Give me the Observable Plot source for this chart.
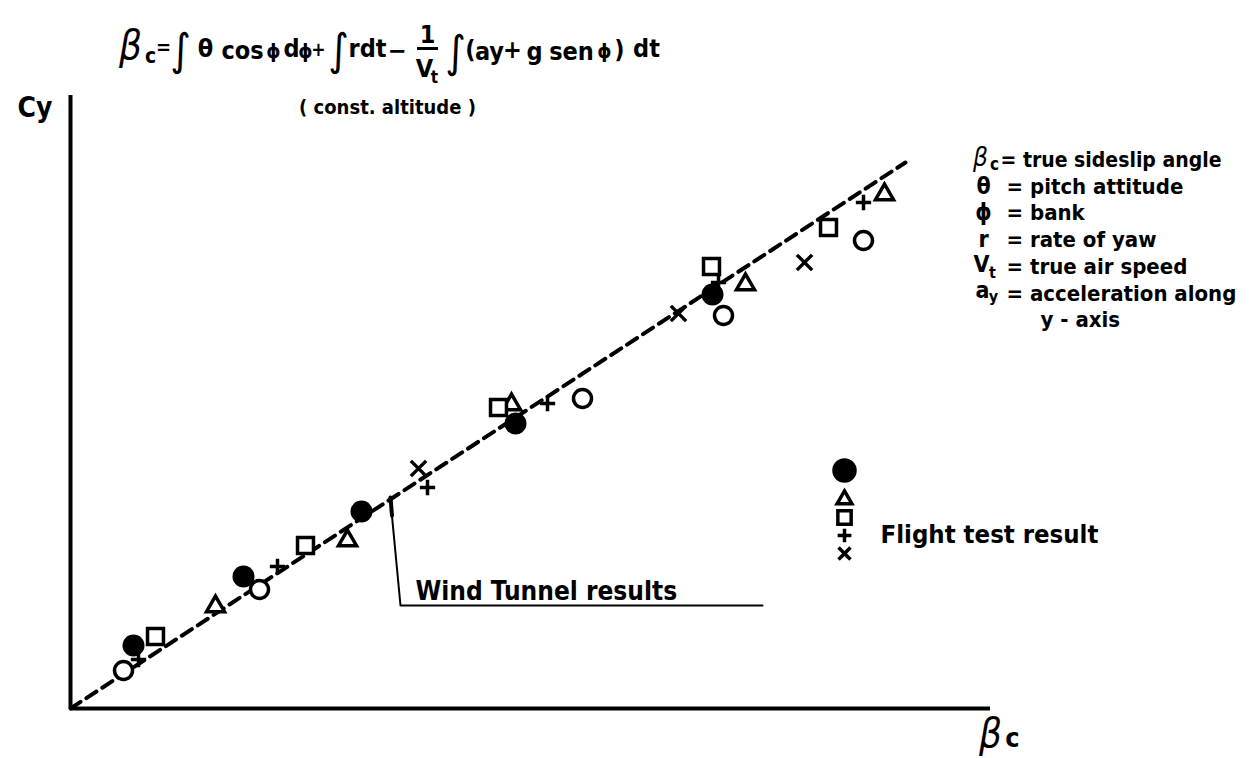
<!DOCTYPE html>
<html><head><meta charset="utf-8">
<script src="https://cdn.jsdelivr.net/npm/d3@7"></script>
<script src="https://cdn.jsdelivr.net/npm/@observablehq/plot@0.6"></script>
<style>body{margin:0;background:#fff;overflow:hidden}</style>
</head><body><div id="chart"></div>
<script>
// ---- data (arbitrary units: beta_c along x, Cy along y) ----
const filledCircleBeta = [6.3, 17.3, 29.1, 44.5, 64.2];
const filledCircleCy   = [6.3, 13.2, 19.7, 28.5, 41.4];
const openCircleBeta   = [5.3, 18.9, 51.2, 65.3, 79.3];
const openCircleCy     = [3.8, 11.9, 31.0, 39.3, 46.8];
const triangleBeta     = [14.5, 27.7, 44.1, 67.5, 81.4];
const triangleCy       = [10.2, 16.8, 30.4, 42.4, 51.4];
const squareBeta       = [8.5, 23.5, 42.8, 64.1, 75.8];
const squareCy         = [7.2, 16.3, 30.1, 44.2, 48.1];
const plusBeta         = [6.8, 20.7, 35.7, 47.7, 64.8, 79.3];
const plusCy           = [4.9, 14.2, 22.1, 30.5, 42.6, 50.6];
const crossBeta        = [34.8, 60.8, 73.4];
const crossCy          = [24.0, 39.5, 44.6];
const windTunnelBeta   = [0, 83.5];
const windTunnelCy     = [0, 54.6];
const legendSymbols    = ["circle", "triangle", "square", "plus", "times"];
const legendLabel      = "Flight test result";
const windLabel        = "Wind Tunnel results";
const definitionSymbols = ["θ", "ϕ", "r"];
const definitionTexts   = ["= pitch attitude", "= bank", "= rate of yaw"];

const pts = (xs, ys) => xs.map((x, i) => ({x, y: ys[i]}));

const FONT = "'DejaVu Sans Condensed','DejaVu Sans',sans-serif";
const X = px => (px - 70) / 10;
const Y = py => (708 - py) / 10;
function label(items, opts = {}) {
  return Plot.text(items, {
    x: d => X(d[1]), y: d => Y(d[2]), text: d => d[0],
    textAnchor: "start", lineAnchor: "middle",
    fontFamily: FONT, fontWeight: "bold", fill: "black", ...opts
  });
}
const mid = (items, opts = {}) => label(items, {textAnchor: "middle", ...opts});

const dotBase = {x: "x", y: "y", stroke: "black", strokeWidth: 3.5, fill: "white"};
const legendDot = (i, r, fill = "white") =>
  Plot.dot([legendSymbols[i]], {x: () => X(844), y: () => Y([470, 499, 517, 535, 553][i]),
    symbol: d => d, r, fill, stroke: "black", strokeWidth: 3.5});

const chart = Plot.plot({
  width: 1256, height: 758,
  marginLeft: 70, marginRight: 266, marginTop: 95, marginBottom: 50,
  x: {domain: [0, 92], axis: null},
  y: {domain: [0, 61.3], axis: null},
  symbol: {type: "identity"},
  style: {background: "white"},
  marks: [
    // axes
    Plot.ruleX([0], {y1: 0, y2: 61.3, strokeWidth: 4}),
    Plot.ruleY([0], {x1: 0, x2: 92, strokeWidth: 4}),
    // wind tunnel line
    Plot.line(pts(windTunnelBeta, windTunnelCy), {x: "x", y: "y", strokeWidth: 4, strokeDasharray: "12,7"}),
    // leader for wind tunnel label
    Plot.line([{x: X(390), y: Y(500)}, {x: X(400), y: Y(605)}, {x: X(762), y: Y(605)}],
      {x: "x", y: "y", strokeWidth: 2}),
    Plot.line([{x: X(390), y: Y(497)}, {x: X(391.5), y: Y(515)}], {x: "x", y: "y", strokeWidth: 4}),
    // flight test points
    Plot.dot(pts(filledCircleBeta, filledCircleCy), {x: "x", y: "y", r: 11, fill: "black"}),
    Plot.dot(pts(openCircleBeta, openCircleCy), {...dotBase, r: 9}),
    Plot.dot(pts(triangleBeta, triangleCy), {...dotBase, symbol: "triangle", r: 6.7}),
    Plot.dot(pts(squareBeta, squareCy), {...dotBase, symbol: "square", r: 9}),
    Plot.dot(pts(plusBeta, plusCy), {...dotBase, symbol: "plus", r: 5}),
    Plot.dot(pts(crossBeta, crossCy), {...dotBase, symbol: "times", r: 7}),
    // legend
    legendDot(0, 10.5, "black"),
    legendDot(1, 5.5),
    legendDot(2, 7.5),
    legendDot(3, 4.5),
    legendDot(4, 5.5),
    label([[legendLabel, 880, 534]], {fontSize: 25.5}),
    label([[windLabel, 415, 591]], {fontSize: 26}),
    // axis labels
    label([["Cy", 17, 108]], {fontSize: 28}),
    mid([["β", 990, 734]], {fontSize: 40, fontStyle: "italic", fontWeight: "normal"}),
    mid([["c", 1012, 738]], {fontSize: 27}),
    // formula
    mid([["β", 130, 46]], {fontSize: 40, fontStyle: "italic", fontWeight: "normal"}),
    mid([["c", 150, 56]], {fontSize: 21}),
    mid([["=", 163, 47]], {fontSize: 20}),
    mid([["∫", 180, 50], ["∫", 338, 50], ["∫", 455, 52]], {fontSize: 44, fontWeight: "normal"}),
    mid([["θ", 205, 48], ["cos", 242, 50], ["d", 291, 48], ["rdt", 367, 48], ["−", 397, 50], ["1", 427, 34],
         ["(", 470, 49], ["ay", 489, 51], ["+", 512, 49], ["g", 534, 51],
         ["sen", 571, 51], [")", 619, 49], ["dt", 646, 48], ["V", 424, 68]], {fontSize: 25}),
    mid([["ϕ", 273, 51], ["ϕ", 305, 51], ["ϕ", 604, 51]], {fontSize: 20}),
    mid([["+", 318, 49]], {fontSize: 19}),
    mid([["t", 434, 77]], {fontSize: 17}),
    Plot.ruleY([Y(48)], {x1: X(417), x2: X(438), strokeWidth: 3}),
    mid([["( const. altitude )", 387, 107]], {fontSize: 20}),
    // definitions
    mid([["β", 980, 157]], {fontSize: 26, fontStyle: "italic", fontWeight: "normal"}),
    mid([["c", 994, 164]], {fontSize: 17}),
    label([["= true sideslip angle", 1000, 160]], {fontSize: 21}),
    mid(definitionSymbols.map((s, i) => [s, 983, [186, 212, 239][i]]), {fontSize: 23}),
    label(definitionTexts.map((t, i) => [t, 1006, [186, 212, 239][i]]), {fontSize: 22}),
    mid([["V", 981, 264], ["a", 982, 290]], {fontSize: 23}),
    mid([["t", 992, 272], ["y", 993, 296]], {fontSize: 16}),
    label([["= true air speed", 1006, 266], ["= acceleration along", 1006, 293], ["y - axis", 1040, 319]], {fontSize: 22})
  ]
});
document.getElementById("chart").append(chart);
</script>
</body></html>
